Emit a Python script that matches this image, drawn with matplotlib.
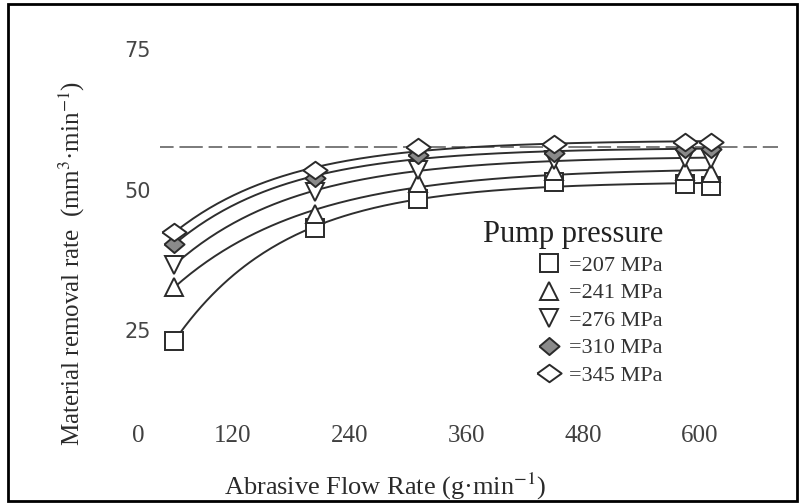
import numpy as np
import matplotlib
matplotlib.use("Agg")
import matplotlib.pyplot as plt
from matplotlib.patches import Rectangle
from matplotlib.transforms import ScaledTranslation

plt.rcParams['mathtext.fontset'] = 'stix'

# abrasive flow rate (g/min) and material removal rate (mm3/min) per pump pressure
flow = np.array([60, 205, 310, 450, 585, 612])
mrr_207 = [23.2, 43.3, 48.4, 51.4, 51.0, 50.8]
mrr_241 = [32.8, 45.8, 51.2, 53.3, 53.3, 53.0]
mrr_276 = [36.7, 49.7, 53.6, 55.4, 55.7, 55.5]
mrr_310 = [40.4, 52.1, 56.3, 56.6, 57.3, 57.3]
mrr_345 = [42.5, 53.6, 57.6, 58.1, 58.6, 58.6]
labels = ['=207 MPa', '=241 MPa', '=276 MPa', '=310 MPa', '=345 MPa']
limit_mrr = 57.7

x_ticks = [0, 120, 240, 360, 480, 600]
y_ticks = [25, 50, 75]

wide_diamond = [(-1, 0), (0, 0.72), (1, 0), (0, -0.72), (-1, 0)]
round_diamond = [(-1, 0), (0, 0.85), (1, 0), (0, -0.85), (-1, 0)]
styles = [
    dict(marker='s', ms=12.5, mfc='white'),
    dict(marker='^', ms=13.5, mfc='white'),
    dict(marker='v', ms=13.5, mfc='white'),
    dict(marker=round_diamond, ms=14.5, mfc='#8a8a8a'),
    dict(marker=wide_diamond, ms=17.5, mfc='white'),
]


def fit_curve(x, y):
    # saturating trend  y = a - b*exp(-x/c)
    best = None
    for c in np.linspace(30, 400, 371):
        A = np.column_stack([np.ones_like(x, dtype=float), -np.exp(-x / c)])
        coef, res, _, _ = np.linalg.lstsq(A, y, rcond=None)
        err = np.sum((A @ coef - y) ** 2)
        if best is None or err < best[0]:
            best = (err, coef, c)
    _, (a, b), c = best
    xs = np.linspace(x.min(), x.max(), 200)
    return xs, a - b * np.exp(-xs / c)


W, H = 800, 503
fig = plt.figure(figsize=(W / 100, H / 100), dpi=100)
ax = fig.add_axes([116 / W, 32 / H, 681 / W, 449.6 / H])
ax.set_xlim(0, 700)
ax.set_ylim(0, 80)

ax.hlines(limit_mrr, 45, 680, colors='#7a7a7a', lw=1.4, linestyles=(0, (7, 3, 12, 3)), zorder=1)

series = [mrr_207, mrr_241, mrr_276, mrr_310, mrr_345]
for vals, st, lab in zip(series, styles, labels):
    xs, ys = fit_curve(flow, np.array(vals))
    ax.plot(xs, ys, color='#2e2e2e', lw=1.4, zorder=2)
    ax.plot(flow, vals, ls='none', mec='#2a2a2a', mew=1.4, label=lab, zorder=3, **st)

for s in ax.spines.values():
    s.set_visible(False)

ax.set_yticks(y_ticks)
ax.set_yticklabels([str(v) for v in y_ticks], fontsize=15, color='#454545', family='DejaVu Sans')
ax.tick_params(axis='y', length=0, pad=-25.2)

ax.set_xticks(x_ticks)
ax.set_xticklabels([str(v) for v in x_ticks], fontsize=18, color='#404040', family='Liberation Serif')
ax.tick_params(axis='x', length=0, pad=-33)
lab0 = ax.get_xticklabels()[0]
lab0.set_transform(lab0.get_transform() + ScaledTranslation(0.22, 0, fig.dpi_scale_trans))

fig.text(72 / W, 1 - 263 / H, 'Material removal rate  (mm$^3$·min$^{-1}$)', rotation=90,
         ha='center', va='center', fontsize=18, family='Liberation Serif', color='#2a2a2a')
fig.text(385 / W, 1 - 495 / H, 'Abrasive Flow Rate (g·min$^{-1}$)',
         ha='center', va='baseline', fontsize=19, family='Liberation Serif', color='#2a2a2a')

leg = ax.legend(title='Pump pressure', frameon=False, loc='upper left',
                bbox_to_anchor=(467 / W, 1 - 204 / H), bbox_transform=fig.transFigure,
                prop={'family': 'Liberation Serif', 'size': 16},
                title_fontproperties={'family': 'Liberation Serif', 'size': 22},
                handlelength=1.2, handletextpad=0.3, labelspacing=0.31, borderpad=0.2,
                alignment='right')
for t in leg.get_texts():
    t.set_color('#333333')
leg.get_title().set_color('#222222')

fig.patches.append(Rectangle((8 / W, 1 - 501 / H), 789 / W, 497 / H, transform=fig.transFigure,
                             fill=False, ec='black', lw=2, zorder=10))

fig.savefig('out.png', dpi=100)
